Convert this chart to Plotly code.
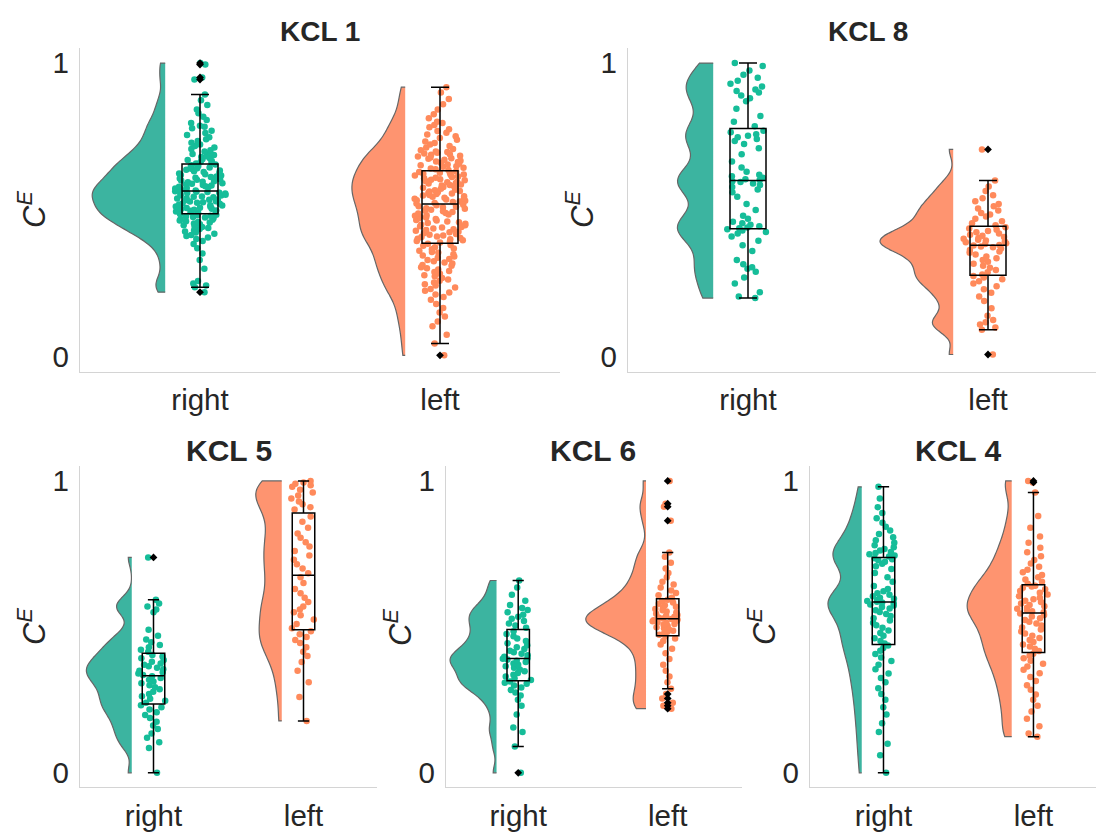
import numpy as np
import plotly.graph_objects as go

# ---------------- data ----------------
categories = ["right", "left"]
panel_titles = ["KCL 1", "KCL 8", "KCL 5", "KCL 6", "KCL 4"]
y_ticks = [0, 1]
y_ticktext = ["0", "1"]

kcl1_right = [0.22, 0.237, 0.243, 0.25, 0.258, 0.3, 0.33, 0.352, 0.37, 0.384, 0.394, 0.401, 0.406, 0.411, 0.415,
              0.419, 0.423, 0.427, 0.431, 0.435, 0.439, 0.442, 0.445, 0.448, 0.451, 0.454, 0.457, 0.459, 0.462, 0.464,
              0.467, 0.469, 0.472, 0.474, 0.476, 0.478, 0.48, 0.482, 0.484, 0.486,
              0.488, 0.491, 0.492, 0.495, 0.497, 0.498, 0.501, 0.503, 0.504, 0.507, 0.508, 0.511, 0.512, 0.515, 0.516,
              0.519, 0.521, 0.522, 0.525, 0.526, 0.529, 0.53, 0.533, 0.535, 0.536, 0.539, 0.54, 0.543, 0.545, 0.546,
              0.549, 0.55, 0.552, 0.555, 0.556, 0.558, 0.559, 0.561, 0.562, 0.564,
              0.566, 0.568, 0.569, 0.571, 0.573, 0.575, 0.577, 0.579, 0.581, 0.583, 0.585, 0.587, 0.589, 0.591, 0.594,
              0.596, 0.598, 0.6, 0.603, 0.605, 0.607, 0.61, 0.612, 0.614, 0.617, 0.619, 0.622, 0.624, 0.627, 0.629,
              0.632, 0.634, 0.637, 0.64, 0.642, 0.645, 0.647, 0.65, 0.652, 0.655,
              0.658, 0.661, 0.664, 0.667, 0.67, 0.673, 0.676, 0.68, 0.683, 0.687, 0.691, 0.695, 0.699, 0.703, 0.708,
              0.713, 0.718, 0.723, 0.729, 0.735, 0.741, 0.748, 0.755, 0.762, 0.77, 0.778, 0.783, 0.787, 0.796, 0.806,
              0.817, 0.829, 0.842, 0.857, 0.874, 0.893, 0.944, 0.951, 0.995, 1.0]
kcl1_left = [0.005, 0.045, 0.075, 0.104, 0.12, 0.137, 0.151, 0.166, 0.18, 0.194, 0.204, 0.212, 0.219, 0.225, 0.231,
             0.236, 0.243, 0.247, 0.253, 0.259, 0.263, 0.268, 0.274, 0.278, 0.283, 0.289, 0.292, 0.297, 0.302, 0.305,
             0.31, 0.313, 0.318, 0.321, 0.325, 0.33, 0.333, 0.337, 0.342, 0.345, 0.349, 0.354, 0.357, 0.361, 0.366,
             0.369, 0.373, 0.378, 0.381, 0.385,
             0.389, 0.392, 0.394, 0.397, 0.4, 0.402, 0.405, 0.408, 0.41, 0.413, 0.416, 0.418, 0.421, 0.424, 0.426,
             0.429, 0.432, 0.434, 0.437, 0.44, 0.442, 0.445, 0.448, 0.45, 0.453, 0.456, 0.458, 0.461, 0.464, 0.466,
             0.469, 0.472, 0.474, 0.477, 0.48, 0.482, 0.485, 0.488, 0.49, 0.493, 0.496, 0.498, 0.501, 0.504, 0.506,
             0.509, 0.511, 0.513, 0.516, 0.518,
             0.522, 0.524, 0.527, 0.529, 0.531, 0.533, 0.536, 0.538, 0.54, 0.542, 0.545, 0.547, 0.549, 0.551, 0.554,
             0.556, 0.558, 0.56, 0.563, 0.565, 0.567, 0.569, 0.572, 0.574, 0.576, 0.578, 0.581, 0.583, 0.585, 0.587,
             0.59, 0.592, 0.594, 0.596, 0.599, 0.601, 0.603, 0.605, 0.608, 0.61, 0.612, 0.614, 0.617, 0.619, 0.621,
             0.623, 0.625, 0.627, 0.629, 0.631,
             0.636, 0.639, 0.641, 0.644, 0.647, 0.649, 0.652, 0.655, 0.657, 0.66, 0.663, 0.665, 0.668, 0.671, 0.674,
             0.676, 0.679, 0.682, 0.685, 0.688, 0.69, 0.692, 0.695, 0.697, 0.699, 0.703, 0.708, 0.713, 0.718, 0.723,
             0.728, 0.733, 0.739, 0.745, 0.751, 0.757, 0.763, 0.769, 0.775, 0.782, 0.789, 0.796, 0.8, 0.812, 0.826,
             0.842, 0.86, 0.878, 0.9, 0.918]

kcl8_right = [0.2, 0.205, 0.22, 0.25, 0.27, 0.29, 0.3, 0.305, 0.315, 0.33, 0.36, 0.38, 0.395, 0.41, 0.42, 0.425,
              0.43, 0.434,
              0.438, 0.44, 0.445, 0.45, 0.455, 0.46, 0.47, 0.48, 0.5, 0.52, 0.545, 0.56, 0.57, 0.578, 0.585, 0.59,
              0.595, 0.598,
              0.602, 0.605, 0.61, 0.615, 0.62, 0.63, 0.645, 0.665, 0.69, 0.71, 0.725, 0.735, 0.742, 0.748, 0.753,
              0.758, 0.765, 0.77,
              0.785, 0.8, 0.82, 0.845, 0.87, 0.88, 0.89, 0.9, 0.905, 0.91, 0.92, 0.93, 0.94, 0.95, 0.96, 0.975,
              0.99, 1.0]
kcl8_left = [0.008, 0.092, 0.1, 0.11, 0.118, 0.125, 0.14, 0.165, 0.19, 0.205, 0.218, 0.23, 0.24, 0.25, 0.257,
             0.264, 0.27, 0.275,
             0.28, 0.288, 0.296, 0.303, 0.31, 0.317, 0.324, 0.33, 0.336, 0.342, 0.348, 0.354, 0.359, 0.364, 0.369,
             0.373, 0.376, 0.379,
             0.381, 0.384, 0.387, 0.39, 0.393, 0.396, 0.399, 0.402, 0.405, 0.408, 0.412, 0.416, 0.42, 0.424, 0.428,
             0.433, 0.437, 0.441,
             0.448, 0.455, 0.462, 0.47, 0.478, 0.485, 0.49, 0.498, 0.505, 0.513, 0.52, 0.53, 0.54, 0.55, 0.565,
             0.58, 0.6, 0.706]

kcl5_right = [0.0, 0.085, 0.105, 0.12, 0.135, 0.15, 0.162, 0.175, 0.188, 0.198, 0.208, 0.217, 0.225, 0.232,
              0.24, 0.247, 0.254, 0.262, 0.27, 0.278, 0.286, 0.293, 0.3, 0.307, 0.313, 0.319, 0.325, 0.331,
              0.335, 0.34, 0.345, 0.35, 0.355, 0.36, 0.365, 0.37, 0.375, 0.381, 0.387, 0.393, 0.399, 0.404,
              0.415, 0.422, 0.43, 0.438, 0.447, 0.457, 0.47, 0.49, 0.55, 0.56, 0.57, 0.58, 0.593, 0.738]
kcl5_left = [0.178, 0.26, 0.31, 0.35, 0.38, 0.4, 0.415, 0.43, 0.445, 0.455, 0.465, 0.475, 0.485,
             0.495, 0.51, 0.525, 0.54, 0.55, 0.56, 0.57, 0.585, 0.6, 0.615, 0.63, 0.65, 0.67,
             0.684, 0.7, 0.715, 0.73, 0.745, 0.76, 0.775, 0.79, 0.805, 0.82, 0.84, 0.86, 0.878,
             0.902, 0.91, 0.92, 0.93, 0.94, 0.95, 0.96, 0.97, 0.98, 0.985, 0.99, 0.995, 1.0]

kcl6_right = [0.0, 0.09, 0.14, 0.155, 0.2, 0.23, 0.25, 0.265, 0.275, 0.284, 0.292, 0.299, 0.305, 0.309, 0.313,
              0.318, 0.324, 0.33, 0.336, 0.342, 0.348, 0.354, 0.36, 0.365, 0.37, 0.375, 0.38, 0.384, 0.388, 0.391,
              0.393, 0.398, 0.403, 0.408, 0.413, 0.418, 0.424, 0.43, 0.437, 0.444, 0.452, 0.46, 0.468, 0.476, 0.485,
              0.497, 0.505, 0.512, 0.52, 0.528, 0.535, 0.542, 0.55, 0.558, 0.565, 0.575, 0.59, 0.61, 0.635, 0.659]
kcl6_left = [0.22, 0.23, 0.24, 0.255, 0.27, 0.288, 0.31, 0.33, 0.35, 0.37, 0.39, 0.41, 0.425, 0.44, 0.452, 0.46,
             0.467,
             0.473, 0.478, 0.483, 0.487, 0.491, 0.495, 0.499, 0.503, 0.507, 0.51, 0.513, 0.516, 0.519, 0.521, 0.523,
             0.525, 0.527,
             0.529, 0.532, 0.535, 0.538, 0.541, 0.545, 0.549, 0.553, 0.557, 0.561, 0.565, 0.569, 0.574, 0.579, 0.584,
             0.589, 0.593,
             0.6, 0.608, 0.616, 0.625, 0.635, 0.645, 0.655, 0.67, 0.685, 0.7, 0.72, 0.74, 0.755, 0.864, 0.912,
             0.922, 1.0]

kcl4_right = [0.0, 0.06, 0.1, 0.14, 0.17, 0.2, 0.225, 0.25, 0.27, 0.29, 0.31, 0.325, 0.34, 0.355, 0.37, 0.383,
              0.395, 0.407, 0.418, 0.428, 0.436,
              0.443, 0.452, 0.461, 0.47, 0.479, 0.488, 0.497, 0.506, 0.514, 0.522, 0.53, 0.537, 0.544, 0.551, 0.557,
              0.563, 0.568, 0.573, 0.577, 0.581, 0.584,
              0.586, 0.589, 0.592, 0.596, 0.6, 0.605, 0.61, 0.615, 0.622, 0.63, 0.64, 0.655, 0.67, 0.685, 0.698,
              0.708, 0.716, 0.723, 0.728, 0.732, 0.735,
              0.741, 0.745, 0.749, 0.753, 0.757, 0.762, 0.767, 0.773, 0.78, 0.788, 0.797, 0.807, 0.818, 0.83, 0.843,
              0.857, 0.872, 0.89, 0.91, 0.94, 0.98]
kcl4_left = [0.124, 0.135, 0.16, 0.185, 0.21, 0.23, 0.25, 0.268, 0.285, 0.3, 0.315, 0.328, 0.341, 0.353, 0.364,
             0.374, 0.384, 0.393, 0.401, 0.408,
             0.417, 0.425, 0.433, 0.44, 0.448, 0.455, 0.462, 0.47, 0.477, 0.484, 0.491, 0.498, 0.505, 0.512, 0.518,
             0.524, 0.53, 0.536, 0.541, 0.546,
             0.55, 0.554, 0.558, 0.562, 0.566, 0.571, 0.575, 0.58, 0.585, 0.59, 0.595, 0.6, 0.605, 0.611, 0.617,
             0.623, 0.629, 0.634, 0.638, 0.641,
             0.648, 0.655, 0.662, 0.67, 0.678, 0.687, 0.696, 0.706, 0.717, 0.729, 0.742, 0.756, 0.771, 0.788, 0.81,
             0.84, 0.88, 0.96, 0.995, 1.0]

panel_data = [
    [kcl1_right, kcl1_left],
    [kcl8_right, kcl8_left],
    [kcl5_right, kcl5_left],
    [kcl6_right, kcl6_left],
    [kcl4_right, kcl4_left],
]

# ---------------- styling / layout ----------------
W, H = 1096, 832
FONT = "Liberation Sans, Arial, sans-serif"
TXT = "#262626"
VIOLIN_FILL = ["#3cb4a0", "#fe9470"]
POINT_COLOR = ["#16bd99", "#ff8a5b"]
SPINE = "#d4d4d4"

# pixel geometry of each panel
panel_geom = [
    dict(x0=80, x1=560, xr=[-0.5, 1.5], yt=47, yb=374, tf=29.5, hf=28, title_y=30),
    dict(x0=628, x1=1096, xr=[-0.5, 1.45], yt=47, yb=374, tf=29.5, hf=28, title_y=30),
    dict(x0=80, x1=377, xr=[-0.49, 1.49], yt=470, yb=795, tf=29.5, hf=30, title_y=454),
    dict(x0=446, x1=742, xr=[-0.483, 1.497], yt=470, yb=795, tf=29.5, hf=30, title_y=454),
    dict(x0=810, x1=1096, xr=[-0.49, 1.417], yt=470, yb=795, tf=29.5, hf=30, title_y=454),
]
violin_halfwidth = [[0.304, 0.222], [0.149, 0.305], [0.302, 0.173], [0.311, 0.403], [0.225, 0.297]]
VIOLIN_OFFSET = 0.145
BOX_WIDTH = 0.15
STRIP_WIDTH = 0.22

fig = go.Figure()
annotations = []
layout_axes = {}

for i, (groups, g) in enumerate(zip(panel_data, panel_geom)):
    suffix = "" if i == 0 else str(i + 1)
    xa, ya = "x" + suffix, "y" + suffix
    for j, vals in enumerate(groups):
        arr = np.asarray(vals, dtype=float)
        bw = 0.2 * arr.std(ddof=1)
        fig.add_trace(go.Violin(
            y=vals, x0=j - VIOLIN_OFFSET, side="negative", width=2 * violin_halfwidth[i][j],
            spanmode="hard", bandwidth=bw, scalemode="width", scalegroup=f"v{i}_{j}",
            fillcolor=VIOLIN_FILL[j], line=dict(color="#666666", width=1.2), opacity=1,
            points=False, box_visible=False, meanline_visible=False,
            xaxis=xa, yaxis=ya, showlegend=False, hoverinfo="skip"))
    for j, vals in enumerate(groups):
        fig.add_trace(go.Box(
            y=vals, x0=j, boxpoints="all", jitter=1, pointpos=0, width=STRIP_WIDTH,
            fillcolor="rgba(0,0,0,0)", line=dict(color="rgba(0,0,0,0)", width=0), whiskerwidth=0,
            marker=dict(color=POINT_COLOR[j], size=6.5, line=dict(width=0)),
            xaxis=xa, yaxis=ya, showlegend=False, hoverinfo="skip"))
        fig.add_trace(go.Box(
            y=vals, x0=j, boxpoints="outliers", jitter=0, pointpos=0, width=BOX_WIDTH,
            fillcolor="rgba(0,0,0,0)", line=dict(color="black", width=1.5), whiskerwidth=0.5,
            marker=dict(color="black", symbol="diamond", size=6, line=dict(width=0)),
            xaxis=xa, yaxis=ya, showlegend=False, hoverinfo="skip"))

    xdom = [g["x0"] / W, g["x1"] / W]
    ydom = [1 - g["yb"] / H, 1 - g["yt"] / H]
    px_per_unit = (g["x1"] - g["x0"]) / (g["xr"][1] - g["xr"][0])
    layout_axes["xaxis" + suffix] = dict(
        domain=xdom, anchor=ya, type="linear", range=g["xr"], tickvals=[0, 1], ticktext=categories,
        showgrid=False, zeroline=False, showline=True, linecolor=SPINE, linewidth=1.3,
        ticks="outside", ticklen=2, tickcolor="rgba(0,0,0,0)",
        tickfont=dict(family=FONT, size=g["tf"], color=TXT))
    layout_axes["yaxis" + suffix] = dict(
        domain=ydom, anchor=xa, range=[-0.05, 1.05], tickvals=y_ticks, ticktext=y_ticktext,
        showgrid=False, zeroline=False, showline=True, linecolor=SPINE, linewidth=1.3,
        ticks="outside", ticklen=4, tickcolor="rgba(0,0,0,0)",
        tickfont=dict(family=FONT, size=g["tf"], color=TXT))
    # panel title, centred over the two categories
    annotations.append(dict(
        text="<b>" + panel_titles[i] + "</b>", xref="paper", yref="paper",
        x=(g["x0"] + (0.5 - g["xr"][0]) * px_per_unit) / W,
        y=1 - g["title_y"] / H, xanchor="center", yanchor="middle", showarrow=False,
        font=dict(family=FONT, size=g["hf"], color=TXT)))
    # y axis title
    annotations.append(dict(
        text="<i>C</i><sup><i>E</i></sup>", xref="paper", yref="paper",
        x=(g["x0"] - 48) / W, y=1 - (g["yt"] + g["yb"]) / 2 / H, textangle=-90,
        xanchor="center", yanchor="middle", showarrow=False,
        font=dict(family=FONT, size=31, color=TXT)))

fig.update_layout(
    width=W, height=H, autosize=False, margin=dict(l=0, r=0, t=0, b=0),
    paper_bgcolor="white", plot_bgcolor="white", showlegend=False,
    boxmode="overlay", violinmode="overlay", annotations=annotations, **layout_axes)

fig.write_html("out.html")
